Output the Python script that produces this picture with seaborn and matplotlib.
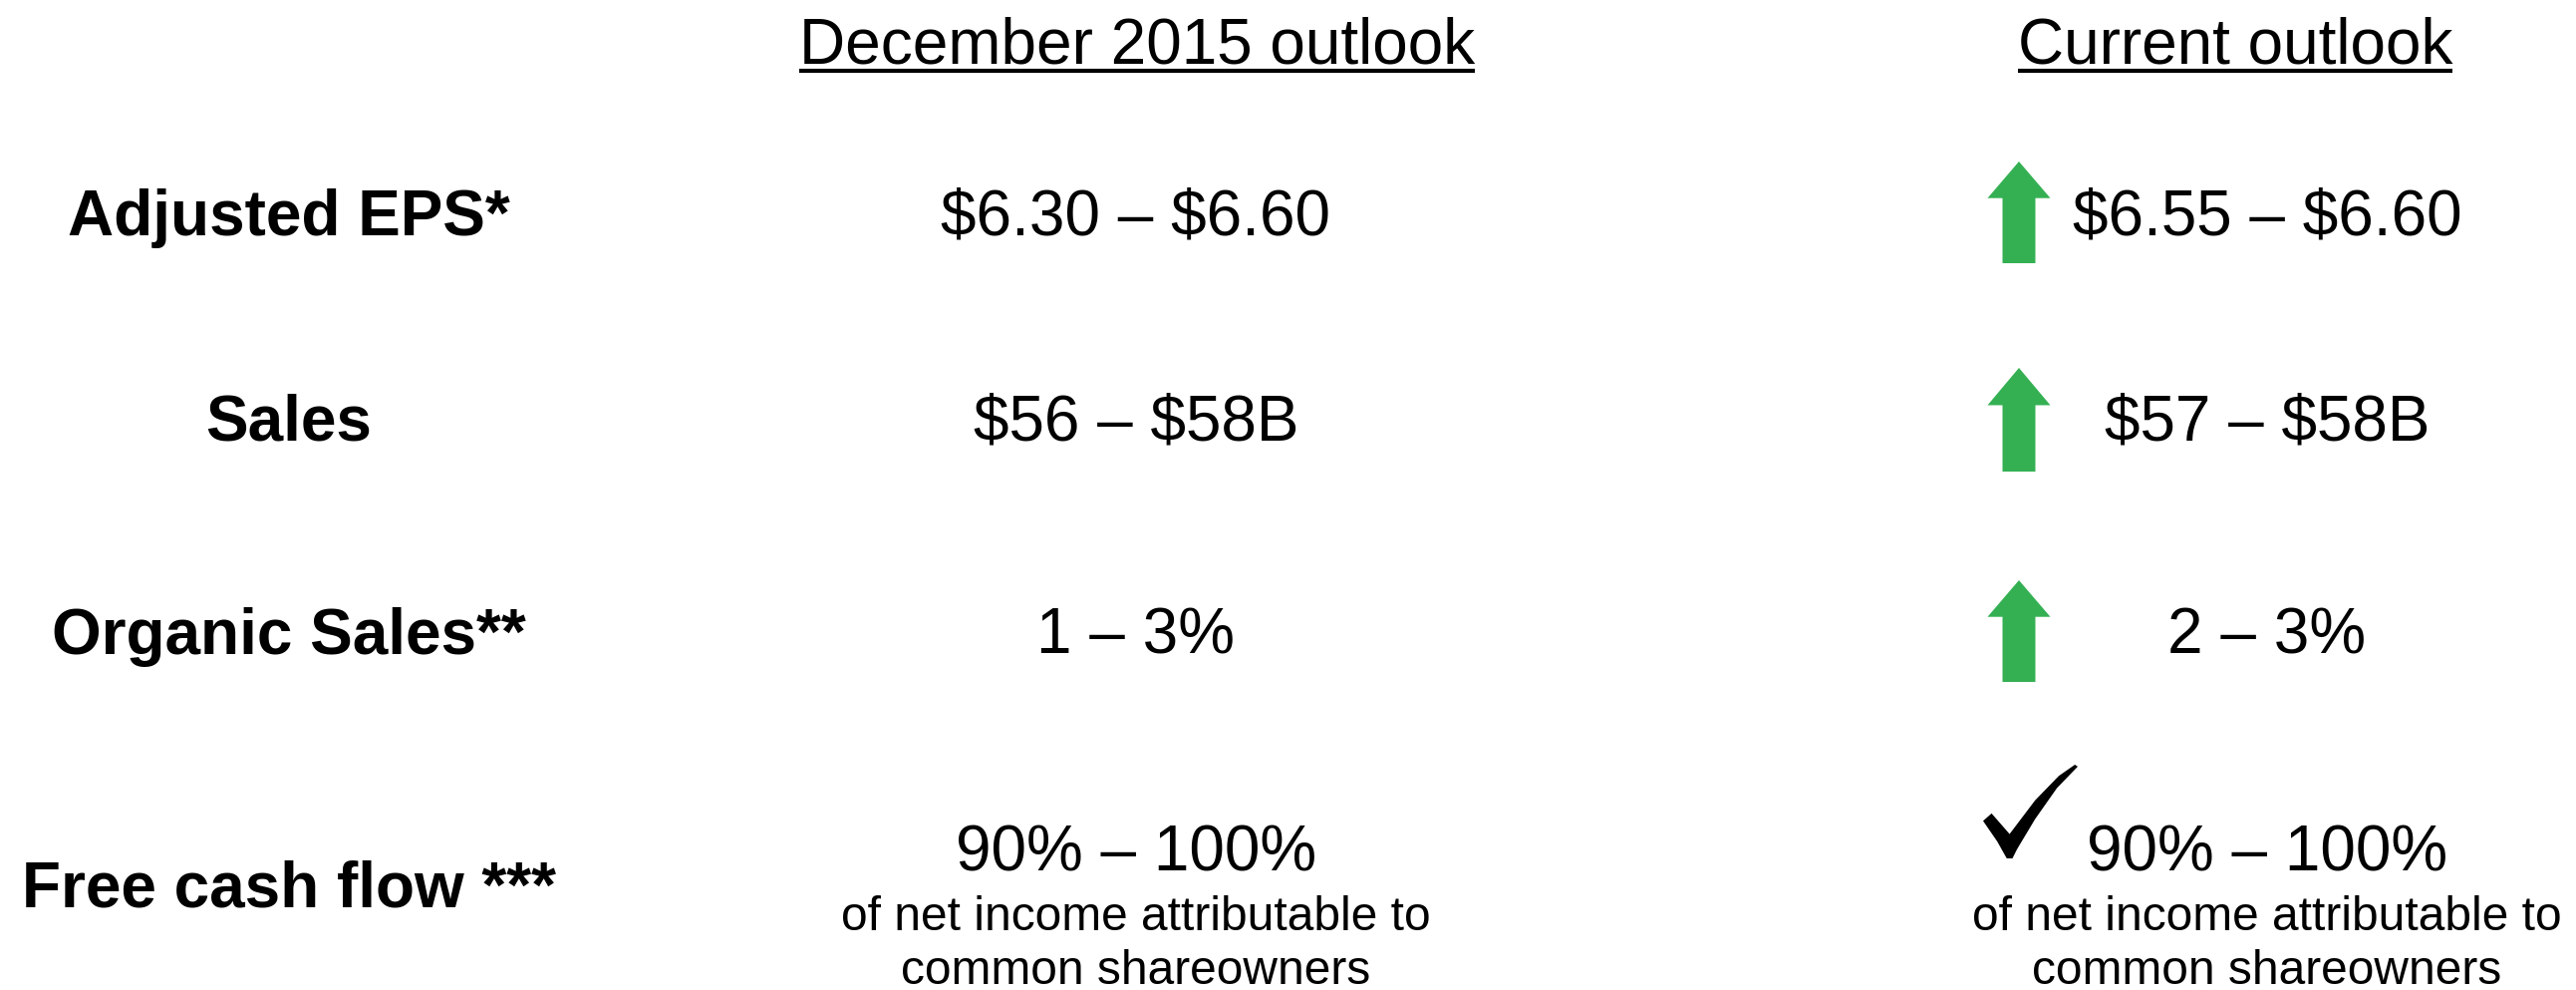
import numpy as np
import matplotlib
matplotlib.use("Agg")
import matplotlib.pyplot as plt
import seaborn as sns

# table content
headers = ["December 2015 outlook", "Current outlook"]
row_labels = ["Adjusted EPS*", "Sales", "Organic Sales**", "Free cash flow ***"]
dec_values = ["$6.30 \u2013 $6.60", "$56 \u2013 $58B", "1 \u2013 3%", "90% \u2013 100%"]
cur_values = ["$6.55 \u2013 $6.60", "$57 \u2013 $58B", "2 \u2013 3%", "90% \u2013 100%"]
change = ["up", "up", "up", "check"]
fcf_note = ["of net income attributable to", "common shareowners"]

# layout (pixels of the 2585x993 canvas)
W, H = 2585, 993
col_x = [290, 1140, 2275]
head_x = [1141, 2243]
head_base = 63
row_base = [236, 442, 656, 910]
fcf_base = [874, 933, 987]
mark_x = 2026
arrow_span = [(162, 264), (369, 473), (582, 684)]
check_box = (1990, 2085, 767, 861)
green = "#34B053"

sns.set_theme(style="white")
plt.rcParams["font.family"] = ["Liberation Sans", "DejaVu Sans"]
plt.rcParams["text.color"] = "black"

fig = plt.figure(figsize=(W / 100, H / 100), dpi=100)
ax = fig.add_axes([0, 0, 1, 1])
ax.set_xlim(0, W)
ax.set_ylim(H, 0)
ax.axis("off")

big = 46
small = 34.5
kw = dict(ha="center", va="baseline", color="black", parse_math=False)

# headers with underline
head_texts = []
for x, h in zip(head_x, headers):
    head_texts.append(ax.text(x, head_base, h, fontsize=big, **kw))

for i, lab in enumerate(row_labels):
    ax.text(col_x[0], row_base[i], lab, fontsize=big, fontweight="bold", **kw)
    if i < 3:
        ax.text(col_x[1], row_base[i], dec_values[i], fontsize=big, **kw)
        ax.text(col_x[2], row_base[i], cur_values[i], fontsize=big, **kw)

# free cash flow block
for cx, val in [(col_x[1], dec_values[3]), (col_x[2], cur_values[3])]:
    ax.text(cx, fcf_base[0], val, fontsize=big, **kw)
    ax.text(cx, fcf_base[1], fcf_note[0], fontsize=small, **kw)
    ax.text(cx, fcf_base[2], fcf_note[1], fontsize=small, **kw)

# up arrows
def up_arrow(cx, top, bottom, head_w=63, shaft_w=33):
    head_h = (bottom - top) * 0.36
    xs = [cx, cx + head_w / 2, cx + shaft_w / 2, cx + shaft_w / 2,
          cx - shaft_w / 2, cx - shaft_w / 2, cx - head_w / 2]
    ys = [top, top + head_h, top + head_h, bottom, bottom, top + head_h, top + head_h]
    ax.fill(xs, ys, color=green, lw=0)

def check_mark(x0, x1, y0, y1):
    pts = np.array([
        [0.00, 0.60], [0.09, 0.52], [0.28, 0.74], [0.55, 0.38], [0.80, 0.12],
        [0.97, 0.00], [1.00, 0.02], [0.78, 0.25], [0.55, 0.58], [0.36, 0.90],
        [0.31, 1.00], [0.25, 1.00], [0.15, 0.82],
    ])
    ax.fill(x0 + pts[:, 0] * (x1 - x0), y0 + pts[:, 1] * (y1 - y0), color="black", lw=0)

k = 0
for c in change:
    if c == "up":
        up_arrow(mark_x, *arrow_span[k])
        k += 1
    else:
        check_mark(*check_box)

# underline headers to text width
fig.canvas.draw()
r = fig.canvas.get_renderer()
inv = ax.transData.inverted()
for t in head_texts:
    bb = t.get_window_extent(renderer=r)
    (xa, _), (xb, _) = inv.transform([[bb.x0, bb.y0], [bb.x1, bb.y1]])
    ax.plot([xa, xb], [71, 71], color="black", lw=3, solid_capstyle="butt")

fig.savefig("out.png", dpi=100, facecolor="white")
plt.close(fig)
